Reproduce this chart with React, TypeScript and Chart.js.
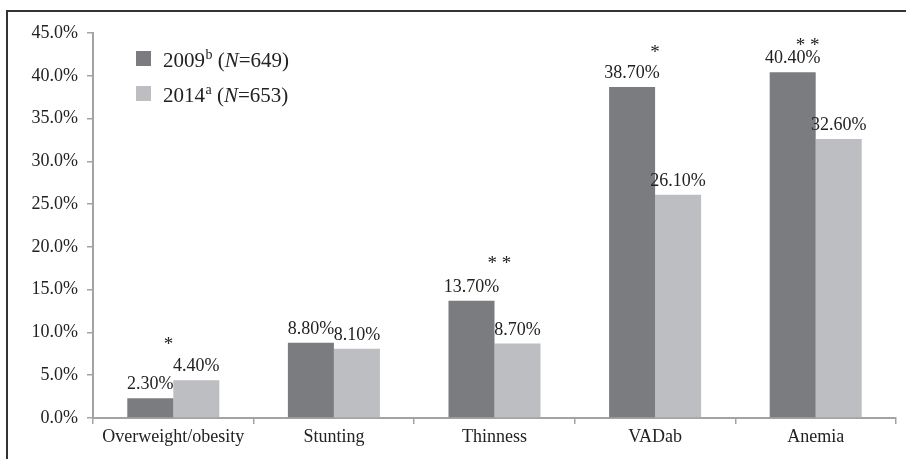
import React, { useEffect, useRef } from "react";
import { Chart, registerables } from "chart.js";

Chart.register(...registerables);

const categories = ["Overweight/obesity", "Stunting", "Thinness", "VADab", "Anemia"];
const values2009 = [2.3, 8.8, 13.7, 38.7, 40.4];
const values2014 = [4.4, 8.1, 8.7, 26.1, 32.6];
const sigMarks = ["*", "", "**", "*", "**"];
const sigHeights = [9.1, 0, 18.6, 43.3, 44.1];
const sigShift = [-0.03, 0, 0.03, 0, -0.05];
const yTicks = [0, 5, 10, 15, 20, 25, 30, 35, 40, 45];

const DARK = "#7b7c80";
const LIGHT = "#bdbec2";
const TEXT = "#222222";
const AXIS = "#a3a3a3";
const SERIF = "'Liberation Serif', 'DejaVu Serif', serif";

const framePlugin = {
  id: "frame",
  beforeDraw(chart: any) {
    const ctx = chart.ctx;
    ctx.save();
    ctx.fillStyle = "#ffffff";
    ctx.fillRect(0, 0, chart.width, chart.height);
    ctx.strokeStyle = "#333333";
    ctx.lineWidth = 2;
    ctx.beginPath();
    ctx.moveTo(7, chart.height);
    ctx.lineTo(7, 11);
    ctx.lineTo(chart.width, 11);
    ctx.stroke();
    ctx.restore();
  },
};

const labelsPlugin = {
  id: "valueLabels",
  afterDatasetsDraw(chart: any) {
    const ctx = chart.ctx;
    ctx.save();
    ctx.fillStyle = TEXT;
    ctx.font = `18px ${SERIF}`;
    ctx.textAlign = "center";
    ctx.textBaseline = "alphabetic";
    chart.data.datasets.forEach((ds: any, di: number) => {
      const meta = chart.getDatasetMeta(di);
      meta.data.forEach((el: any, i: number) => {
        ctx.fillText(ds.data[i].toFixed(2) + "%", el.x, el.y - 9);
      });
    });
    const xs = chart.scales.x;
    const ys = chart.scales.y;
    const catW = (xs.right - xs.left) / categories.length;
    ctx.font = `19px ${SERIF}`;
    sigMarks.forEach((m, i) => {
      if (!m) return;
      const x = xs.getPixelForValue(i) + sigShift[i] * catW;
      const y = ys.getPixelForValue(sigHeights[i]) + 10;
      ctx.fillText(m.split("").join(" "), x, y);
    });
    ctx.restore();
  },
};

const legendPlugin = {
  id: "customLegend",
  afterDraw(chart: any) {
    const ctx = chart.ctx;
    ctx.save();
    const rows = [
      { color: DARK, year: "2009", sup: "b", n: "649" },
      { color: LIGHT, year: "2014", sup: "a", n: "653" },
    ];
    rows.forEach((r, i) => {
      const base = 67 + i * 35;
      ctx.fillStyle = r.color;
      ctx.fillRect(136, base - 16, 15, 15);
      ctx.fillStyle = TEXT;
      ctx.textBaseline = "alphabetic";
      ctx.textAlign = "left";
      let x = 163;
      ctx.font = `21px ${SERIF}`;
      ctx.fillText(r.year, x, base);
      x += ctx.measureText(r.year).width;
      ctx.font = `14px ${SERIF}`;
      ctx.fillText(r.sup, x + 0.5, base - 8);
      x += ctx.measureText(r.sup).width + 0.5;
      ctx.font = `21px ${SERIF}`;
      ctx.fillText(" (", x, base);
      x += ctx.measureText(" (").width;
      ctx.font = `italic 21px ${SERIF}`;
      ctx.fillText("N", x, base);
      x += ctx.measureText("N").width;
      ctx.font = `21px ${SERIF}`;
      ctx.fillText("=" + r.n + ")", x, base);
    });
    ctx.restore();
  },
};

export default function App() {
  const ref = useRef<HTMLCanvasElement | null>(null);
  useEffect(() => {
    if (!ref.current) return;
    const chart = new Chart(ref.current, {
      type: "bar",
      data: {
        labels: categories,
        datasets: [
          { label: "2009", data: values2009, backgroundColor: DARK, categoryPercentage: 0.573, barPercentage: 1 },
          { label: "2014", data: values2014, backgroundColor: LIGHT, categoryPercentage: 0.573, barPercentage: 1 },
        ],
      },
      options: {
        animation: false,
        responsive: false,
        devicePixelRatio: 1,
        layout: { padding: { left: 0, top: 33, right: 10, bottom: 0 } },
        plugins: { legend: { display: false }, tooltip: { enabled: false } },
        scales: {
          x: {
            afterFit: (s: any) => { s.height = 41; },
            grid: { display: true, drawOnChartArea: false, tickLength: 6, color: AXIS, lineWidth: 1.5, offset: true },
            border: { display: true, color: AXIS, width: 2 },
            ticks: { color: TEXT, font: { family: SERIF, size: 18 }, padding: 2, maxRotation: 0, autoSkip: false },
          },
          y: {
            min: 0,
            max: 45,
            afterFit: (s: any) => { s.width = 93; },
            afterBuildTicks: (s: any) => { s.ticks = yTicks.map((v) => ({ value: v })); },
            grid: { display: true, drawOnChartArea: false, tickLength: 6, color: AXIS, lineWidth: 1.5 },
            border: { display: true, color: AXIS, width: 2 },
            ticks: {
              color: TEXT,
              font: { family: SERIF, size: 18 },
              padding: 9,
              callback: (v: any) => Number(v).toFixed(1) + "%",
            },
          },
        },
      },
      plugins: [framePlugin, labelsPlugin, legendPlugin],
    });
    return () => chart.destroy();
  }, []);
  return (
    <div style={{ position: "fixed", left: 0, top: 0, width: 906, height: 459, background: "#fff" }}>
      <canvas ref={ref} width={906} height={459} style={{ width: 906, height: 459, display: "block" }} />
    </div>
  );
}
